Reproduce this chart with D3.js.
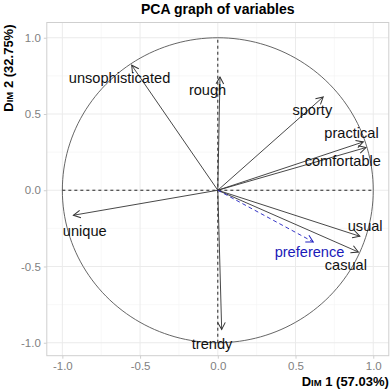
<!DOCTYPE html>
<html>
<head>
<meta charset="utf-8">
<script src="https://cdn.jsdelivr.net/npm/d3@7"></script>
<style>
  body { margin: 0; background: #fff; }
  text { font-family: "Liberation Sans", Arial, sans-serif; }
</style>
</head>
<body>
<div id="chart"></div>
<script>
// variables and their coordinates on dim 1 / dim 2
const variables = ["unsophisticated", "rough", "sporty", "practical", "comfortable", "usual", "casual", "unique", "trendy"];
const dim1 = [-0.554, 0.014, 0.678, 0.936, 0.953, 0.914, 0.904, -0.929, 0.025];
const dim2 = [0.820, 0.743, 0.612, 0.317, 0.280, -0.302, -0.405, -0.164, -0.913];
// where the (repelled) labels sit, in data units
const labelDim1 = [-0.632, -0.066, 0.608, 0.860, 0.804, 0.948, 0.824, -0.856, -0.037];
const labelDim2 = [0.738, 0.656, 0.525, 0.377, 0.190, -0.236, -0.492, -0.269, -1.007];

// supplementary variable
const supName = ["preference"];
const supDim1 = [0.614];
const supDim2 = [-0.339];
const supLabelDim1 = [0.590];
const supLabelDim2 = [-0.407];

const xTicks = [-1.0, -0.5, 0.0, 0.5, 1.0];
const yTicks = [-1.0, -0.5, 0.0, 0.5, 1.0];
const minorTicks = [-0.75, -0.25, 0.25, 0.75];

const W = 392, H = 392;
const svg = d3.select("#chart").append("svg")
    .attr("width", W)
    .attr("height", H);

const x = d3.scaleLinear().domain([-1.1, 1.1]).range([46.8, 388.8]);
const y = d3.scaleLinear().domain([-1.085, 1.1]).range([355.7, 22.5]);

// arrow heads
const defs = svg.append("defs");
[["arr", "#333333"], ["arrSup", "#2020c0"]].forEach(function(m) {
  defs.append("marker")
      .attr("id", m[0])
      .attr("markerUnits", "userSpaceOnUse")
      .attr("markerWidth", 12).attr("markerHeight", 12)
      .attr("viewBox", "0 0 12 12")
      .attr("refX", 9).attr("refY", 6)
      .attr("orient", "auto")
    .append("path")
      .attr("d", "M2,2.2 L9,6 L2,9.8")
      .attr("fill", "none")
      .attr("stroke", m[1])
      .attr("stroke-width", 1);
});

// grid
const g = svg.append("g");
g.selectAll(".minx").data(minorTicks).join("line")
    .attr("x1", d => x(d)).attr("x2", d => x(d))
    .attr("y1", y.range()[0]).attr("y2", y.range()[1])
    .attr("stroke", "#f4f4f4").attr("stroke-width", 0.6);
g.selectAll(".miny").data(minorTicks).join("line")
    .attr("y1", d => y(d)).attr("y2", d => y(d))
    .attr("x1", x.range()[0]).attr("x2", x.range()[1])
    .attr("stroke", "#f4f4f4").attr("stroke-width", 0.6);
g.selectAll(".majx").data(xTicks).join("line")
    .attr("x1", d => x(d)).attr("x2", d => x(d))
    .attr("y1", y.range()[0]).attr("y2", y.range()[1])
    .attr("stroke", "#ebebeb").attr("stroke-width", 1);
g.selectAll(".majy").data(yTicks).join("line")
    .attr("y1", d => y(d)).attr("y2", d => y(d))
    .attr("x1", x.range()[0]).attr("x2", x.range()[1])
    .attr("stroke", "#ebebeb").attr("stroke-width", 1);

// panel border
svg.append("rect")
    .attr("x", x.range()[0]).attr("y", y.range()[1])
    .attr("width", x.range()[1] - x.range()[0])
    .attr("height", y.range()[0] - y.range()[1])
    .attr("fill", "none").attr("stroke", "#cfcfcf").attr("stroke-width", 1);

// axes
const xAxis = svg.append("g")
    .attr("transform", `translate(0,${y.range()[0]})`)
    .call(d3.axisBottom(x).tickValues(xTicks).tickFormat(d3.format(".1f")).tickSize(3).tickPadding(3));
const yAxis = svg.append("g")
    .attr("transform", `translate(${x.range()[0]},0)`)
    .call(d3.axisLeft(y).tickValues(yTicks).tickFormat(d3.format(".1f")).tickSize(3).tickPadding(3));
[xAxis, yAxis].forEach(function(a) {
  a.select(".domain").remove();
  a.selectAll(".tick line").attr("stroke", "#cfcfcf");
  a.selectAll(".tick text")
      .attr("fill", "#7f7f7f")
      .style("font-size", "11.5px")
      .style("font-family", "'Liberation Sans', Arial, sans-serif")
      .text(d => d3.format(".1f")(d).replace("−", "-"));
});

// unit circle
const circ = d3.range(0, 361, 2).map(a => [Math.cos(a * Math.PI / 180), Math.sin(a * Math.PI / 180)]);
svg.append("path")
    .datum(circ)
    .attr("d", d3.line().x(d => x(d[0])).y(d => y(d[1])))
    .attr("fill", "none").attr("stroke", "#555555").attr("stroke-width", 0.9);

// dashed zero lines
svg.append("line")
    .attr("x1", x(-1)).attr("x2", x(1)).attr("y1", y(0)).attr("y2", y(0))
    .attr("stroke", "#222").attr("stroke-dasharray", "3,3").attr("stroke-width", 1);
svg.append("line")
    .attr("x1", x(0)).attr("x2", x(0)).attr("y1", y(-1)).attr("y2", y(1))
    .attr("stroke", "#222").attr("stroke-dasharray", "3,3").attr("stroke-width", 1);

// active variable arrows
svg.selectAll(".arrow").data(variables).join("line")
    .attr("x1", x(0)).attr("y1", y(0))
    .attr("x2", (d, i) => x(dim1[i])).attr("y2", (d, i) => y(dim2[i]))
    .attr("stroke", "#333333").attr("stroke-width", 0.9)
    .attr("marker-end", "url(#arr)");

// supplementary arrow
svg.selectAll(".sup").data(supName).join("line")
    .attr("x1", x(0)).attr("y1", y(0))
    .attr("x2", (d, i) => x(supDim1[i])).attr("y2", (d, i) => y(supDim2[i]))
    .attr("stroke", "#2020c0").attr("stroke-width", 0.9)
    .attr("stroke-dasharray", "4,3")
    .attr("marker-end", "url(#arrSup)");

// labels
svg.selectAll(".lab").data(variables).join("text")
    .attr("x", (d, i) => x(labelDim1[i]))
    .attr("y", (d, i) => y(labelDim2[i]))
    .attr("text-anchor", "middle")
    .attr("dominant-baseline", "central")
    .style("font-size", "14.6px")
    .attr("fill", "#111")
    .text(d => d);
svg.selectAll(".supLab").data(supName).join("text")
    .attr("x", (d, i) => x(supLabelDim1[i]))
    .attr("y", (d, i) => y(supLabelDim2[i]))
    .attr("text-anchor", "middle")
    .attr("dominant-baseline", "central")
    .style("font-size", "14.6px")
    .attr("fill", "#1a1ab8")
    .text(d => d);

// title
svg.append("text")
    .attr("x", (x.range()[0] + x.range()[1]) / 2)
    .attr("y", 14)
    .attr("text-anchor", "middle")
    .style("font-size", "14px")
    .style("font-weight", "bold")
    .text("PCA graph of variables");

// axis titles with small caps "Dim"
function dimLabel(sel, n, pct) {
  sel.append("tspan").text("D");
  sel.append("tspan").style("font-size", "9.5px").text("IM");
  sel.append("tspan").text(" " + n + " (" + pct + ")");
}
svg.append("text")
    .attr("x", x.range()[1])
    .attr("y", 386)
    .attr("text-anchor", "end")
    .style("font-size", "13px")
    .style("font-weight", "bold")
    .call(dimLabel, 1, "57.03%");
svg.append("text")
    .attr("transform", `translate(13,${y.range()[1] + 2}) rotate(-90)`)
    .attr("text-anchor", "end")
    .style("font-size", "13px")
    .style("font-weight", "bold")
    .call(dimLabel, 2, "32.75%");
</script>
</body>
</html>
